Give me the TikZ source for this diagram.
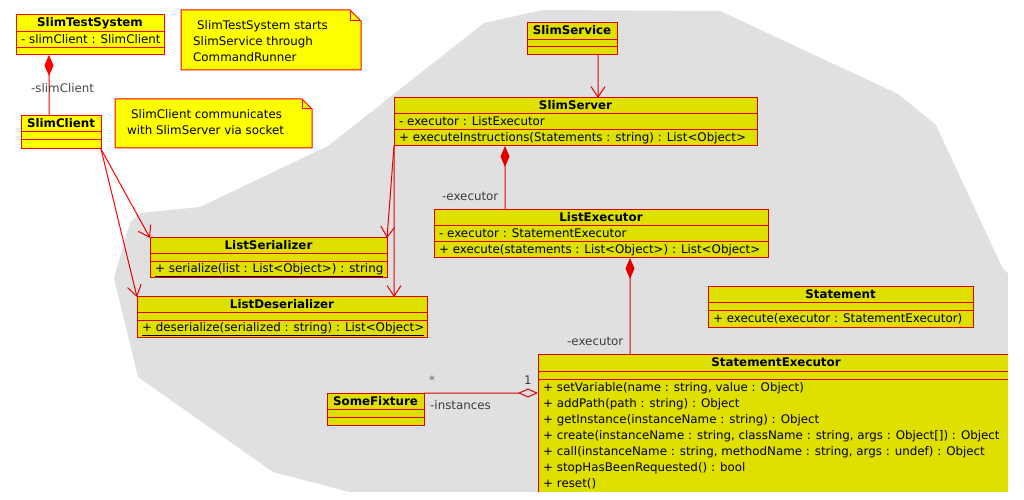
\documentclass[tikz,border=0pt]{standalone}
\usepackage{fontspec}
\setmainfont{DejaVu Sans}
\usetikzlibrary{arrows.meta}
\definecolor{umlred}{RGB}{255,0,0}
\definecolor{clsyel}{RGB}{255,255,0}
\definecolor{labgray}{RGB}{70,70,70}
\definecolor{stargray}{RGB}{120,120,120}
\tikzset{
  clsbox/.style={draw=umlred, fill=clsyel, line width=1bp, inner sep=0pt, outer sep=0pt, anchor=north west},
  rowsep/.style={draw=umlred, line width=1bp},
  ttl/.style={font=\fontsize{11.85bp}{14bp}\selectfont\bfseries, anchor=base, inner sep=0pt},
  mem/.style={anchor=base west, inner sep=0pt},
  rolelab/.style={anchor=base west, inner sep=0pt, text=labgray},
  link/.style={draw=umlred, line width=1bp},
  depend/.style={link, -{Straight Barb[length=10.5bp,width=14bp]}},
  compose/.style={link, {Diamond[length=21bp,width=9bp,color=umlred,fill=umlred]}-},
  aggreg/.style={link, {Diamond[open,length=20bp,width=9bp]}-},
  notebox/.style={draw=none, fill=none, inner sep=0pt, outer sep=0pt, anchor=north west},
  noteline/.style={draw=umlred, fill=clsyel, line width=1bp},
  uline/.style={draw=black, line width=0.9bp},
}
\begin{document}
\begin{tikzpicture}[x=1bp,y=-1bp,font=\fontsize{11.85bp}{14bp}\selectfont]
\useasboundingbox (0,0) rectangle (1024,500);
\fill[white] (0,0) rectangle (1024,500);
\begin{scope}
\clip (0,0) rectangle (1008,491);

% ---------- notes ----------
\node[notebox, minimum width=180bp, minimum height=60bp] (n1) at (181,10) {};
\draw[noteline] (n1.north west) -- ([xshift=-11bp]n1.north east) -- ([yshift=-11bp]n1.north east) -- (n1.south east) -- (n1.south west) -- cycle;
\draw[noteline, fill=none] ([xshift=-11bp]n1.north east) -- ([xshift=-11bp,yshift=-11bp]n1.north east) -- ([yshift=-11bp]n1.north east);
\node[mem] (n1a) at (197,30) {SlimTestSystem starts};
\node[mem] (n1b) at (193,46) {SlimService through};
\node[mem] (n1c) at (193,62) {CommandRunner};

\node[notebox, minimum width=197bp, minimum height=49bp] (n2) at (115,99) {};
\draw[noteline] (n2.north west) -- ([xshift=-10bp]n2.north east) -- ([yshift=-10bp]n2.north east) -- (n2.south east) -- (n2.south west) -- cycle;
\draw[noteline, fill=none] ([xshift=-10bp]n2.north east) -- ([xshift=-10bp,yshift=-10bp]n2.north east) -- ([yshift=-10bp]n2.north east);
\node[mem] (n2a) at (131,119) {SlimClient communicates};
\node[mem] (n2b) at (127,135) {with SlimServer via socket};

% ---------- classes ----------
% SlimTestSystem
\node[clsbox, minimum width=148bp, minimum height=40bp] (sts) at (16,15) {};
\draw[rowsep] (16,32) -- (164,32) (16,48) -- (164,48);
\node[ttl] (stsT) at (90,27) {SlimTestSystem};
\node[mem] (stsA) at (21,44) {- slimClient : SlimClient};

% SlimClient
\node[clsbox, minimum width=80bp, minimum height=33bp] (sc) at (21,116) {};
\draw[rowsep] (21,132) -- (101,132) (21,140) -- (101,140);
\node[ttl] (scT) at (61,128) {SlimClient};

% SlimService
\node[clsbox, minimum width=90bp, minimum height=32bp] (svc) at (527,23) {};
\draw[rowsep] (527,40) -- (617,40) (527,47) -- (617,47);
\node[ttl] (svcT) at (572,35) {SlimService};

% SlimServer
\node[clsbox, minimum width=363bp, minimum height=48bp] (srv) at (394,98) {};
\draw[rowsep] (394,114) -- (757,114) (394,130) -- (757,130);
\node[ttl] (srvT) at (575.5,110) {SlimServer};
\node[mem] (srvA) at (399,126) {- executor : ListExecutor};
\node[mem] (srvO) at (399,142) {+ executeInstructions(Statements : string) : List<Object>};

% ListExecutor
\node[clsbox, minimum width=334bp, minimum height=48bp] (lex) at (434,210) {};
\draw[rowsep] (434,226) -- (768,226) (434,242) -- (768,242);
\node[ttl] (lexT) at (601,222) {ListExecutor};
\node[mem] (lexA) at (439,238) {- executor : StatementExecutor};
\node[mem] (lexO) at (439,254) {+ execute(statements : List<Object>) : List<Object>};

% ListSerializer
\node[clsbox, minimum width=237bp, minimum height=40bp] (lser) at (150,238) {};
\draw[rowsep] (150,254) -- (387,254) (150,262) -- (387,262);
\node[ttl] (lserT) at (268.5,250) {ListSerializer};
\node[mem] (lserO) at (155,273) {+ serialize(list : List<Object>) : string};
\draw[uline] ([yshift=-3.5bp]lserO.base west) -- ([yshift=-3.5bp]lserO.base east);

% ListDeserializer
\node[clsbox, minimum width=290bp, minimum height=40bp] (ldes) at (137,297) {};
\draw[rowsep] (137,313) -- (427,313) (137,321) -- (427,321);
\node[ttl] (ldesT) at (282,309) {ListDeserializer};
\node[mem] (ldesO) at (142,332) {+ deserialize(serialized : string) : List<Object>};
\draw[uline] ([yshift=-3.5bp]ldesO.base west) -- ([yshift=-3.5bp]ldesO.base east);

% Statement
\node[clsbox, minimum width=265bp, minimum height=40bp] (stm) at (708,287) {};
\draw[rowsep] (708,303) -- (973,303) (708,311) -- (973,311);
\node[ttl] (stmT) at (840.5,299) {Statement};
\node[mem] (stmO) at (713,323) {+ execute(executor : StatementExecutor)};

% StatementExecutor
\node[clsbox, minimum width=476bp, minimum height=150bp] (sex) at (538,355) {};
\draw[rowsep] (538,371) -- (1014,371) (538,379) -- (1014,379);
\node[ttl] (sexT) at (776,367) {StatementExecutor};
\node[mem] (sexO1) at (543,391) {+ setVariable(name : string, value : Object)};
\node[mem] (sexO2) at (543,407) {+ addPath(path : string) : Object};
\node[mem] (sexO3) at (543,423) {+ getInstance(instanceName : string) : Object};
\node[mem] (sexO4) at (543,439) {+ create(instanceName : string, className : string, args : Object[]) : Object};
\node[mem] (sexO5) at (543,455) {+ call(instanceName : string, methodName : string, args : undef) : Object};
\node[mem] (sexO6) at (543,471) {+ stopHasBeenRequested() : bool};
\node[mem] (sexO7) at (543,487) {+ reset()};

% SomeFixture
\node[clsbox, minimum width=97bp, minimum height=32bp] (sf) at (327,393) {};
\draw[rowsep] (327,409) -- (424,409) (327,417) -- (424,417);
\node[ttl] (sfT) at (375.5,405) {SomeFixture};

% ---------- connectors ----------
\draw[compose] ([xshift=33bp]sts.south west) -- ([xshift=28bp]sc.north west);
\node[rolelab] (r1) at (31,93) {-slimClient};

\draw[depend] ([xshift=71bp]svc.south west) -- ([xshift=204bp]srv.north west);

\draw[compose] ([xshift=111bp]srv.south west) -- ([xshift=71bp]lex.north west);
\node[rolelab] (r2) at (442,201) {-executor};

\draw[compose] ([xshift=196bp]lex.south west) -- ([xshift=92bp]sex.north west);
\node[rolelab] (r3) at (567,346) {-executor};

\draw[aggreg] ([yshift=-38bp]sex.north west) -- (sf.north east);
\node[rolelab] (r4) at (430,409) {-instances};
\node[anchor=base, inner sep=0pt, text=labgray] (m1) at (528,385) {1};
\node[anchor=base, inner sep=0pt, text=stargray] (m2) at (432,385) {*};

\draw[depend] (sc.south east) -- (lser.north west);
\draw[depend] (sc.south east) -- (ldes.north west);
\draw[depend] (srv.south west) -- (lser.north east);
\draw[depend] (srv.south west) -- ([xshift=257bp]ldes.north west);

% ---------- grey region (overlay) ----------
\fill[black, fill opacity=0.12] (484,23) -- (543,10) -- (720,11) -- (898,94) -- (936,125)
  -- (1002,267) -- (1012,278) -- (1012,498) -- (372,498) -- (273,472) -- (138,377)
  -- (114,278) -- (127,232) -- (131,222) -- (140,213) -- (200,207) -- (328,146) -- cycle;
\end{scope}
\end{tikzpicture}
\end{document}
